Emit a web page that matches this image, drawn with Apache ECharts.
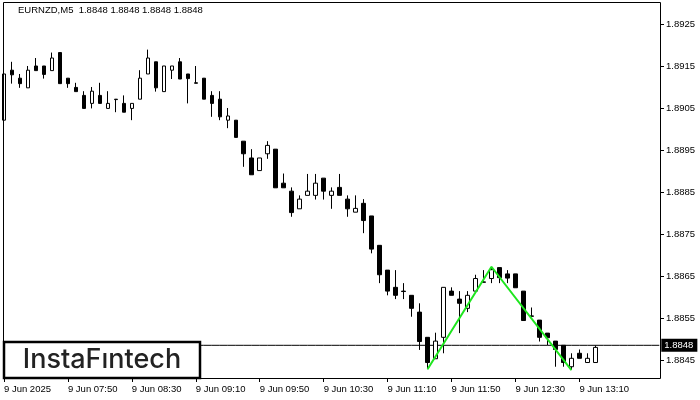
<!DOCTYPE html>
<html><head><meta charset="utf-8">
<script src="https://cdn.jsdelivr.net/npm/echarts@6/dist/echarts.min.js"></script>
<style>html,body{margin:0;padding:0;background:#fff}#c{width:700px;height:400px}</style>
</head><body><div id="c"></div><script>
const symbol = 'EURNZD,M5';
const dayLabel = '9 Jun';
const firstLabel = '9 Jun 2025';
const times = ['07:10','07:15','07:20','07:25','07:30','07:35','07:40','07:45','07:50','07:55',
'08:00','08:05','08:10','08:15','08:20','08:25','08:30','08:35','08:40','08:45',
'08:50','08:55','09:00','09:05','09:10','09:15','09:20','09:25','09:30','09:35',
'09:40','09:45','09:50','09:55','10:00','10:05','10:10','10:15','10:20','10:25',
'10:30','10:35','10:40','10:45','10:50','10:55','11:00','11:05','11:10','11:15',
'11:20','11:25','11:30','11:35','11:40','11:45','11:50','11:55','12:00','12:05',
'12:10','12:15','12:20','12:25','12:30','12:35','12:40','12:45','12:50','12:55',
'13:00','13:05','13:10','13:15','13:20','13:25','13:30','13:35','13:40','13:45',
'13:50','13:55','14:00'];
const open = [1.89021,1.89140,1.89121,1.89098,1.89150,1.89150,1.89139,1.89182,1.89121,1.89099,
1.89080,1.89061,1.89080,1.89049,1.89071,1.89061,1.89049,1.89071,1.89131,1.89160,
1.89089,1.89140,1.89160,1.89131,1.89110,1.89121,1.89080,1.89071,1.89021,1.89021,
1.88971,1.88931,1.88901,1.88941,1.88952,1.88871,1.88852,1.88810,1.88842,1.88842,
1.88883,1.88842,1.88861,1.88833,1.88802,1.88823,1.88793,1.88723,1.88664,1.88623,
1.88614,1.88604,1.88564,1.88504,1.88453,1.88504,1.88614,1.88595,1.88573,1.88614,
1.88636,1.88644,1.88670,1.88655,1.88655,1.88614,1.88555,1.88545,1.88514,1.88495,
1.88485,1.88434,1.88466,1.88444,1.88444];
const close = [1.89131,1.89129,1.89108,1.89140,1.89139,1.89130,1.89169,1.89108,1.89108,1.89089,
1.89049,1.89090,1.89061,1.89061,1.89070,1.89040,1.89061,1.89121,1.89169,1.89098,
1.89150,1.89150,1.89119,1.89120,1.89109,1.89071,1.89061,1.89029,1.89031,1.88980,
1.88941,1.88891,1.88931,1.88961,1.88860,1.88860,1.88801,1.88833,1.88852,1.88871,
1.88852,1.88852,1.88842,1.88810,1.88811,1.88782,1.88714,1.88653,1.88614,1.88604,
1.88613,1.88573,1.88494,1.88444,1.88495,1.88623,1.88604,1.88585,1.88604,1.88644,
1.88635,1.88665,1.88646,1.88645,1.88622,1.88544,1.88554,1.88504,1.88503,1.88475,
1.88444,1.88454,1.88454,1.88454,1.88480];
const low = [1.89018,1.89108,1.89098,1.89098,1.89139,1.89120,1.89139,1.89108,1.89098,1.89089,
1.89049,1.89049,1.89061,1.89049,1.89040,1.89040,1.89021,1.89071,1.89131,1.89089,
1.89089,1.89119,1.89119,1.89061,1.89109,1.89071,1.89029,1.89021,1.89002,1.88980,
1.88910,1.88891,1.88901,1.88929,1.88860,1.88860,1.88791,1.88810,1.88842,1.88832,
1.88832,1.88810,1.88842,1.88791,1.88802,1.88752,1.88704,1.88633,1.88604,1.88595,
1.88595,1.88553,1.88474,1.88428,1.88453,1.88466,1.88604,1.88514,1.88564,1.88614,
1.88635,1.88633,1.88633,1.88633,1.88622,1.88544,1.88554,1.88494,1.88485,1.88434,
1.88434,1.88426,1.88454,1.88444,1.88444];
const high = [1.89135,1.89160,1.89131,1.89150,1.89169,1.89150,1.89182,1.89182,1.89121,1.89110,
1.89090,1.89100,1.89110,1.89090,1.89071,1.89080,1.89061,1.89140,1.89189,1.89160,
1.89150,1.89150,1.89169,1.89131,1.89150,1.89121,1.89090,1.89090,1.89050,1.89021,
1.88971,1.88952,1.88931,1.88971,1.88952,1.88894,1.88861,1.88842,1.88893,1.88893,
1.88883,1.88861,1.88893,1.88842,1.88842,1.88833,1.88793,1.88723,1.88664,1.88664,
1.88633,1.88604,1.88585,1.88504,1.88515,1.88623,1.88623,1.88614,1.88614,1.88653,
1.88664,1.88672,1.88670,1.88664,1.88655,1.88614,1.88575,1.88545,1.88514,1.88495,
1.88485,1.88466,1.88475,1.88466,1.88485];
const yTicks = [1.8845,1.8855,1.8865,1.8875,1.8885,1.8895,1.8905,1.8915,1.8925];
const titleValues = ['1.8848','1.8848','1.8848','1.8848'];
const currentPrice = 1.88485;
const currentPriceLabel = '1.8848';
const patternIdx = [53,61,71];
const patternVal = [1.88428,1.88672,1.88426];

const FONT = 'Liberation Sans, Arial, sans-serif';
const candleData = open.map((o,i)=>[o, close[i], low[i], high[i]]);
const patternData = times.map(()=>null);
patternIdx.forEach((k,j)=>{ patternData[k] = patternVal[j]; });
const priceLineData = times.map(()=>currentPrice);
const showTick = (i)=> i % 8 === 0 && i < open.length;

const chart = echarts.init(document.getElementById('c'), null, {renderer:'canvas'});
chart.setOption({
  animation:false,
  backgroundColor:'#fff',
  title:{
    text: symbol + '  ' + titleValues.join(' '),
    left:18, top:5, padding:0,
    textStyle:{fontFamily:FONT, fontSize:9.5, fontWeight:'normal', color:'#000'}
  },
  grid:{left:-0.7, top:3, width:664, height:375},
  xAxis:{
    type:'category', data:times, boundaryGap:true,
    axisLine:{show:false},
    axisTick:{show:true, interval:showTick, alignWithLabel:true, length:4, lineStyle:{color:'#000'}},
    axisLabel:{interval:showTick, align:'left', margin:6, fontSize:9.5, color:'#000', fontFamily:FONT,
      hideOverlap:false,
      formatter:(v,i)=> i===0 ? firstLabel : dayLabel + ' ' + v},
    splitLine:{show:false}
  },
  yAxis:{
    type:'value', position:'right', min:1.8840714, max:1.8930, offset:-3.3,
    axisLine:{show:false},
    axisTick:{show:true, length:4, customValues:yTicks, lineStyle:{color:'#000'}},
    axisLabel:{customValues:yTicks, formatter:v=>v.toFixed(4), margin:6, fontSize:9.5, color:'#000', fontFamily:FONT},
    splitLine:{show:false}
  },
  series:[
    {
      type:'line', data:priceLineData, symbol:'none', z:1, silent:true,
      lineStyle:{color:'#000', width:1},
      endLabel:{show:true, distance:2, formatter:()=>currentPriceLabel, backgroundColor:'#000', color:'#fff',
        padding:[2,4,1,3], fontSize:9.5, fontFamily:FONT}
    },
    {
      type:'candlestick', data:candleData, barWidth:4, z:2,
      itemStyle:{color:'#fff', color0:'#000', borderColor:'#000', borderColor0:'#000', borderColorDoji:'#000', borderWidth:1}
    },
    {
      type:'line', data:patternData, connectNulls:true, symbol:'none', z:5,
      lineStyle:{color:'#1ee61e', width:2}
    }
  ],
  graphic:[
    {type:'rect', z:50, silent:true, shape:{x:3.5, y:2.5, width:657, height:376}, style:{fill:null, stroke:'#000', lineWidth:1}},
    {type:'rect', z:100, silent:true, shape:{x:4, y:342, width:196, height:36}, style:{fill:'#fff', stroke:'#000', lineWidth:2.5}},
    {type:'text', z:101, silent:true, x:102, y:360, style:{text:'InstaFıntech', font:'500 27px Inter, sans-serif', fill:'#222', align:'center', verticalAlign:'middle'}}
  ]
});
</script></body></html>
